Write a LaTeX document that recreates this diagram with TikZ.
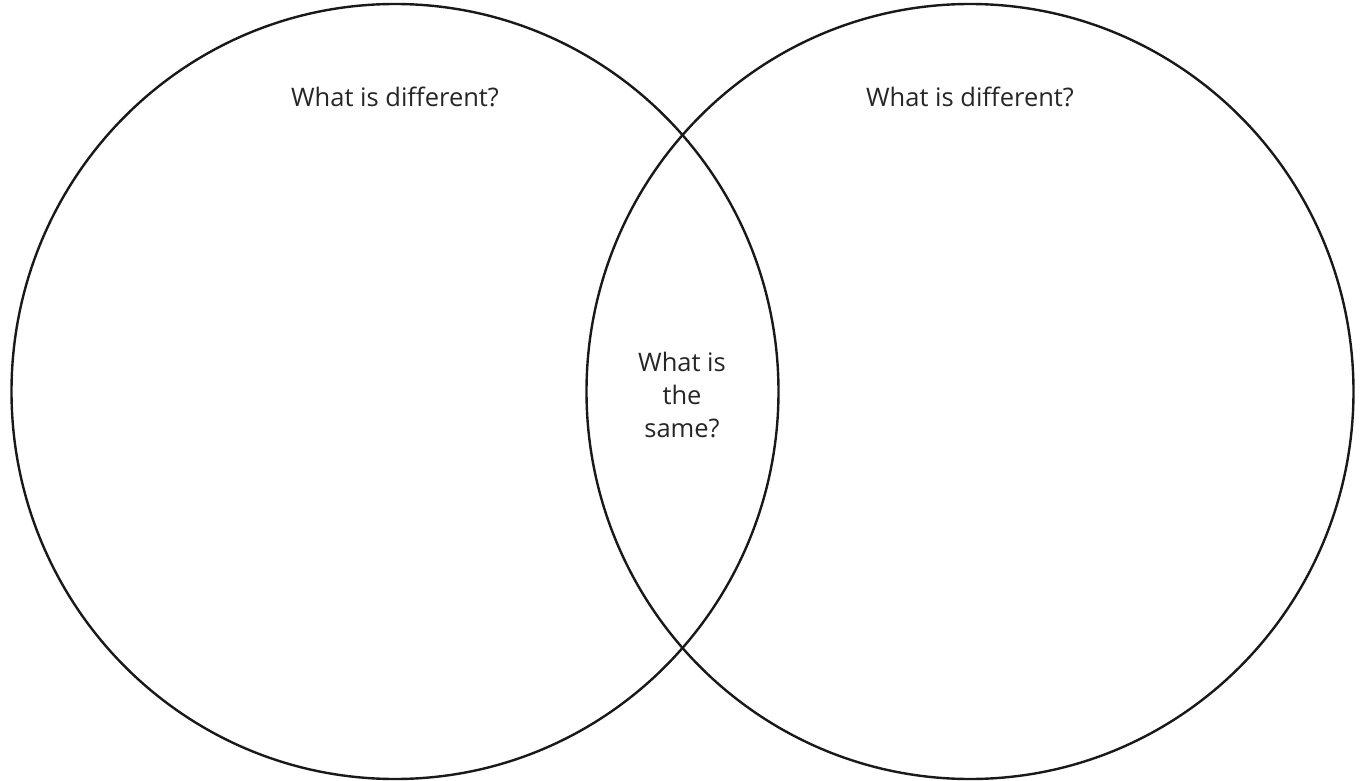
\documentclass[tikz,border=0pt]{standalone}
\usepackage{fontspec}
\setmainfont{Open Sans}
\begin{document}
\begin{tikzpicture}[x=1pt,y=-1pt,
  ring/.style={draw=black!90,line width=2.4pt},
  lbl/.style={font=\fontsize{25.5}{33}\selectfont,text=black!85,inner sep=0pt,align=center}]
\useasboundingbox (0,0) rectangle (1360,781);
\draw[ring] (395,391.5) ellipse [x radius=383.5,y radius=387.5];
\draw[ring] (970,391.5) ellipse [x radius=383.5,y radius=387.5];
\node[lbl,anchor=base] (l) at (395,107) {What is different?};
\node[lbl,anchor=base] (r) at (970,107) {What is different?};
\node[lbl] (m) at (682,395) {What is\\the\\same?};
\end{tikzpicture}
\end{document}
